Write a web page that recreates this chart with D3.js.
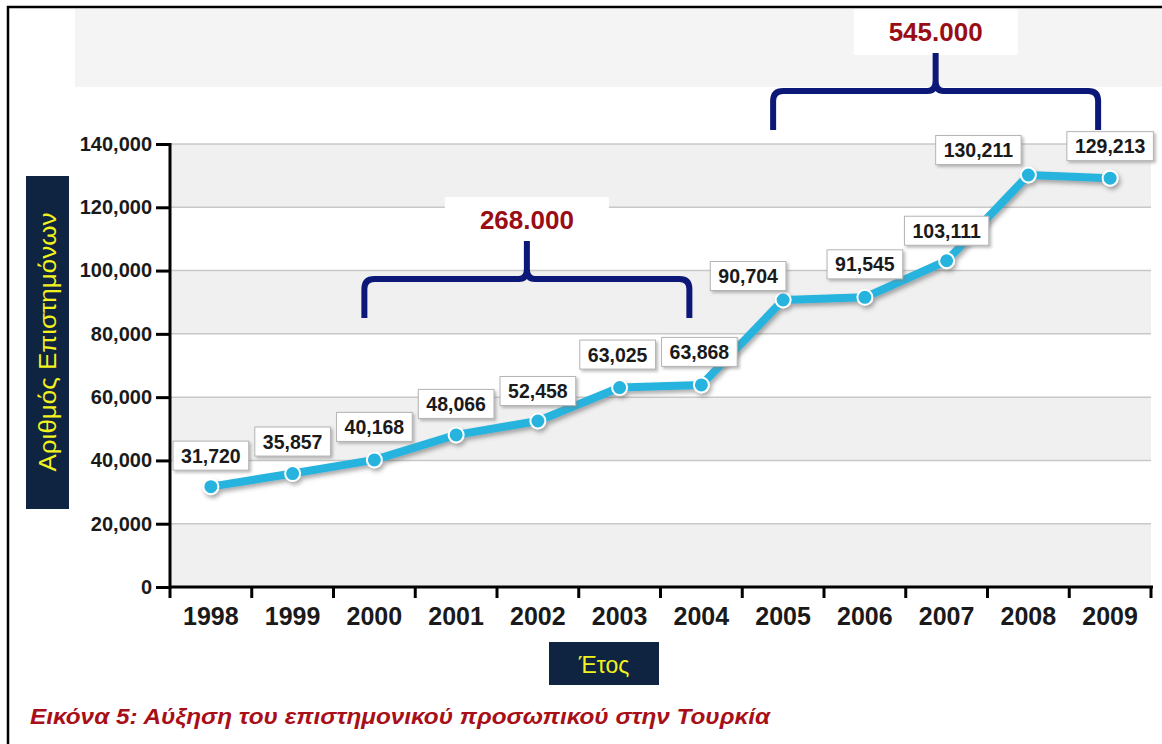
<!DOCTYPE html>
<html>
<head>
<meta charset="utf-8">
<script src="https://cdn.jsdelivr.net/npm/d3@7"></script>
<style>
  body { margin: 0; background: #fff; }
  svg { display: block; font-family: "Liberation Sans", Arial, sans-serif; }
</style>
</head>
<body>
<svg id="chart" width="1162" height="744"></svg>
<script>
// data
const years = ["1998","1999","2000","2001","2002","2003","2004","2005","2006","2007","2008","2009"];
const scientists = [31720, 35857, 40168, 48066, 52458, 63025, 63868, 90704, 91545, 103111, 130211, 129213];
const yTicks = [0, 20000, 40000, 60000, 80000, 100000, 120000, 140000];
const braceLabels = ["268.000", "545.000"];
const braceFrom = ["2000", "2005"];
const braceTo = ["2004", "2009"];
const braceBase = [85000, 144400];   // value level where the brace legs end
// small nudges so the value boxes sit like the original
const labelDx = [0, 0, 0, 0, 0, -2, -2, -35, 0, 0, -50, 0];
const labelDy = [-31, -32, -33, -31, -30, -33, -33, -24, -33, -30, -25, -32];

const svg = d3.select('#chart');
const margin = {top: 144, left: 170, right: 11, bottom: 157};
const plotRight = 1151, plotBottom = 587;

const x = d3.scaleBand().domain(years).range([margin.left, plotRight]);
const y = d3.scaleLinear().domain([0, 140000]).range([plotBottom, margin.top]);
const fmt = d3.format(",");

const defs = svg.append("defs");
defs.append("filter").attr("id", "lineShadow")
    .attr("x", "-10%").attr("y", "-10%").attr("width", "130%").attr("height", "130%")
  .append("feDropShadow")
    .attr("dx", 2).attr("dy", 3).attr("stdDeviation", 2)
    .attr("flood-color", "#444").attr("flood-opacity", 0.45);
defs.append("filter").attr("id", "boxShadow")
    .attr("x", "-20%").attr("y", "-30%").attr("width", "150%").attr("height", "170%")
  .append("feDropShadow")
    .attr("dx", 2).attr("dy", 2).attr("stdDeviation", 1.5)
    .attr("flood-color", "#777").attr("flood-opacity", 0.5);

// frame and top strip
svg.append("rect").attr("x", 8).attr("y", 7).attr("width", 1170).attr("height", 760)
    .attr("fill", "#fff").attr("stroke", "#000").attr("stroke-width", 2.5);
svg.append("rect").attr("x", 75).attr("y", 9).attr("width", 1087).attr("height", 78)
    .attr("fill", "#f4f4f4");

// alternating bands
const bands = svg.append("g");
for (let i = 0; i < yTicks.length - 1; i++) {
  bands.append("rect")
      .attr("x", margin.left).attr("width", plotRight - margin.left)
      .attr("y", y(yTicks[i + 1])).attr("height", y(yTicks[i]) - y(yTicks[i + 1]))
      .attr("fill", i % 2 == 0 ? "#f0f0f0" : "#ffffff");
}
svg.append("g").selectAll("line").data(yTicks.slice(1)).enter().append("line")
    .attr("x1", margin.left).attr("x2", plotRight)
    .attr("y1", d => y(d)).attr("y2", d => y(d))
    .attr("stroke", "#c8c8c8").attr("stroke-width", 1.5);

// braces
const braceColor = "#0c1877";
braceLabels.forEach((lab, i) => {
  const x0 = x(braceFrom[i]) + x.bandwidth() / 2 - 10;
  const x1 = x(braceTo[i]) + x.bandwidth() / 2 - 12;
  const xm = (x0 + x1) / 2;
  const yb = y(braceBase[i]);
  const yh = yb - 39, yt = yh - 38, r = 10;
  // white box behind the label
  svg.append("rect").attr("x", xm - 82).attr("y", yt - 44).attr("width", 164).attr("height", 46)
      .attr("fill", "#fff");
  const p = d3.path();
  p.moveTo(x0, yb);
  p.lineTo(x0, yh + r);
  p.quadraticCurveTo(x0, yh, x0 + r, yh);
  p.lineTo(xm - 8, yh);
  p.quadraticCurveTo(xm, yh, xm, yh - 10);
  p.lineTo(xm, yt);
  p.moveTo(xm, yh - 10);
  p.quadraticCurveTo(xm, yh, xm + 8, yh);
  p.lineTo(x1 - r, yh);
  p.quadraticCurveTo(x1, yh, x1, yh + r);
  p.lineTo(x1, yb);
  svg.append("path").attr("d", p.toString())
      .attr("fill", "none").attr("stroke", braceColor).attr("stroke-width", 6)
      .attr("stroke-linejoin", "round");
  svg.append("text").attr("x", xm).attr("y", yt - 12)
      .attr("text-anchor", "middle").attr("font-size", 26).attr("font-weight", "bold")
      .attr("fill", "#9a0d14").text(lab);
});

// axes
const yAxis = svg.append("g")
    .attr("transform", "translate(" + margin.left + ",0)")
    .call(d3.axisLeft(y).tickValues(yTicks).tickFormat(fmt).tickSize(14).tickSizeOuter(0));
yAxis.select(".domain").attr("stroke-width", 3).attr("d", "M0," + (y(140000) - 1) + "V" + (plotBottom + 2));
yAxis.selectAll(".tick line").attr("stroke-width", 3);
yAxis.selectAll(".tick text").attr("font-size", 20).attr("font-weight", "bold")
    .attr("fill", "#1a1a1a").attr("x", -18);

const xAxis = svg.append("g")
    .attr("transform", "translate(0," + plotBottom + ")")
    .call(d3.axisBottom(x).tickSize(0).tickSizeOuter(0));
xAxis.select(".domain").attr("stroke-width", 3).attr("d", "M" + (margin.left - 1) + ",0H" + (plotRight + 2));
xAxis.selectAll(".tick text").attr("font-size", 25).attr("font-weight", "bold")
    .attr("fill", "#1a1a1a").attr("dy", "1.38em");
xAxis.selectAll("line.sep").data(d3.range(years.length + 1)).enter().append("line")
    .attr("class", "sep")
    .attr("x1", i => margin.left + i * x.step()).attr("x2", i => margin.left + i * x.step())
    .attr("y1", 0).attr("y2", 11)
    .attr("stroke", "#000").attr("stroke-width", 3);

// line and points
const line = d3.line().x((d, i) => x(years[i]) + x.bandwidth() / 2).y(d => y(d));
const series = svg.append("g").attr("filter", "url(#lineShadow)");
series.append("path").datum(scientists).attr("d", line)
    .attr("fill", "none").attr("stroke", "#27b4de").attr("stroke-width", 8)
    .attr("stroke-linejoin", "round");
series.selectAll("circle").data(scientists).enter().append("circle")
    .attr("cx", (d, i) => x(years[i]) + x.bandwidth() / 2)
    .attr("cy", d => y(d)).attr("r", 7.5)
    .attr("fill", "#27b4de").attr("stroke", "#fff").attr("stroke-width", 2);

// value boxes
const labels = svg.append("g").selectAll("g").data(scientists).enter().append("g")
    .attr("transform", (d, i) => "translate(" + (x(years[i]) + x.bandwidth() / 2 + labelDx[i]) + "," + (y(d) + labelDy[i]) + ")");
labels.append("rect").attr("class", "box");
labels.append("text").attr("text-anchor", "middle").attr("dy", "0.36em")
    .attr("font-size", 19.5).attr("font-weight", "bold").attr("fill", "#1a1a1a")
    .text(d => fmt(d));
labels.each(function() {
  const g = d3.select(this);
  const w = g.select("text").node().getComputedTextLength() + 16;
  g.select("rect").attr("x", -w / 2).attr("y", -14.5).attr("width", w).attr("height", 29)
      .attr("fill", "#fff").attr("stroke", "#b5b5b5").attr("stroke-width", 1)
      .attr("filter", "url(#boxShadow)");
});

// axis titles
svg.append("rect").attr("x", 26).attr("y", 176).attr("width", 43).attr("height", 333).attr("fill", "#0f2441");
svg.append("text").attr("transform", "translate(56,342) rotate(-90)")
    .attr("text-anchor", "middle").attr("font-size", 24).attr("fill", "#f2f21e")
    .attr("textLength", 259).attr("lengthAdjust", "spacingAndGlyphs")
    .text("Αριθμός Επιστημόνων");
svg.append("rect").attr("x", 549).attr("y", 642).attr("width", 110).attr("height", 43).attr("fill", "#0f2441");
svg.append("text").attr("x", 604).attr("y", 673)
    .attr("text-anchor", "middle").attr("font-size", 23).attr("fill", "#f2f21e")
    .text("Έτος");

// caption
svg.append("text").attr("x", 30).attr("y", 724)
    .attr("font-size", 22).attr("font-style", "italic").attr("font-weight", "bold").attr("fill", "#a80f18")
    .attr("textLength", 740).attr("lengthAdjust", "spacingAndGlyphs")
    .text("Εικόνα 5: Αύξηση του επιστημονικού προσωπικού στην Τουρκία");
</script>
</body>
</html>
